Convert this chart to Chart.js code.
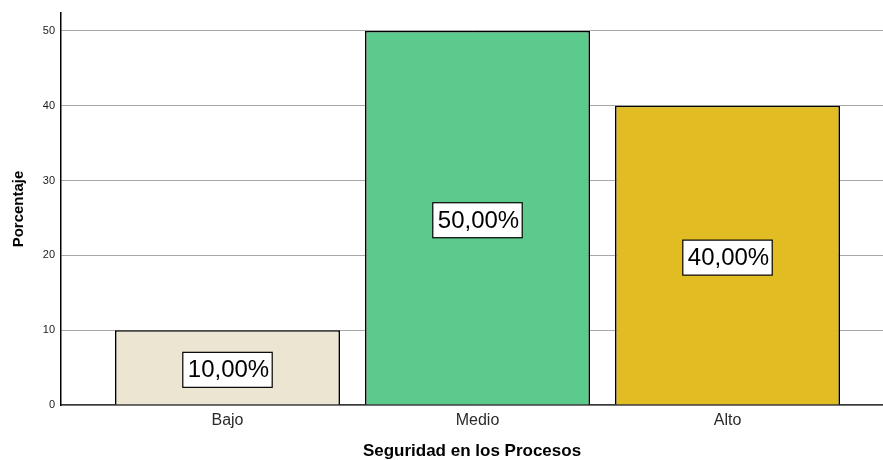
<!DOCTYPE html>
<html>
<head>
<meta charset="utf-8">
<script src="https://cdn.jsdelivr.net/npm/chart.js@4/dist/chart.umd.min.js"></script>
<style>
  html, body { margin: 0; padding: 0; background: #ffffff; }
  #wrap { width: 883px; height: 460px; }
</style>
</head>
<body>
<div id="wrap"><canvas id="c" width="883" height="460"></canvas></div>
<script>
const categories = ["Bajo", "Medio", "Alto"];
const percentages = [10, 50, 40];
const valueLabels = ["10,00%", "50,00%", "40,00%"];
const yTicks = [0, 10, 20, 30, 40, 50];
const barColors = ["#ECE5D1", "#5DCA8D", "#E1BC22"];

const FONT = "'Liberation Sans', Arial, sans-serif";

const labelPlugin = {
  id: "boxLabels",
  afterDatasetsDraw(chart) {
    const ctx = chart.ctx;
    const meta = chart.getDatasetMeta(0);
    ctx.save();
    ctx.font = "24px " + FONT;
    ctx.textAlign = "center";
    ctx.textBaseline = "middle";
    meta.data.forEach((bar, i) => {
      const txt = valueLabels[i];
      const cx = bar.x;
      const cy = (bar.y + bar.base) / 2 + 2.5;
      const w = ctx.measureText(txt).width + 8;
      const h = 35;
      ctx.fillStyle = "#ffffff";
      ctx.fillRect(cx - w / 2, cy - h / 2, w, h);
      ctx.strokeStyle = "#000000";
      ctx.lineWidth = 1.2;
      ctx.strokeRect(cx - w / 2, cy - h / 2, w, h);
      ctx.fillStyle = "#000000";
      ctx.fillText(txt, cx + 1, cy + 1);
    });
    ctx.restore();
  }
};

new Chart(document.getElementById("c"), {
  type: "bar",
  data: {
    datasets: [{
      data: percentages.map((v, i) => ({ x: i, y: v })),
      backgroundColor: barColors,
      borderColor: "#000000",
      borderWidth: 1.6,
      barPercentage: 0.9,
      categoryPercentage: 1.0
    }]
  },
  options: {
    responsive: false,
    animation: false,
    layout: { padding: { top: 13, right: 0, bottom: 0, left: 0 } },
    plugins: { legend: { display: false }, tooltip: { enabled: false } },
    scales: {
      x: {
        type: "linear",
        offset: false,
        min: -0.666,
        max: 2.622,
        afterBuildTicks: (scale) => { scale.ticks = categories.map((c, i) => ({ value: i })); },
        afterFit: (scale) => { scale.height = 55; },
        grid: { display: false, drawTicks: false, offset: false },
        border: { display: true, color: "#3a3a3a", width: 1.5 },
        ticks: {
          padding: 6,
          color: "#2a2a2a",
          font: { family: FONT, size: 16 },
          callback: (v) => categories[v] !== undefined ? categories[v] : ""
        },
        title: {
          display: true,
          text: "Seguridad en los Procesos",
          color: "#000000",
          font: { family: FONT, size: 17, weight: "bold", lineHeight: 1 },
          padding: { top: 0, bottom: 0 }
        }
      },
      y: {
        min: 0,
        max: 52.4,
        afterBuildTicks: (scale) => { scale.ticks = yTicks.map(v => ({ value: v })); },
        afterFit: (scale) => { scale.width = 61; },
        grid: { color: "#a8a8a8", lineWidth: 1, drawTicks: false },
        border: { display: true, color: "#000000", width: 1.5 },
        ticks: {
          padding: 6,
          color: "#1a1a1a",
          font: { family: FONT, size: 11 }
        },
        title: {
          display: true,
          text: "Porcentaje",
          color: "#000000",
          font: { family: FONT, size: 15, weight: "bold", lineHeight: 1.2 },
          padding: { top: 10, bottom: 0 }
        }
      }
    }
  },
  plugins: [labelPlugin]
});
</script>
</body>
</html>
